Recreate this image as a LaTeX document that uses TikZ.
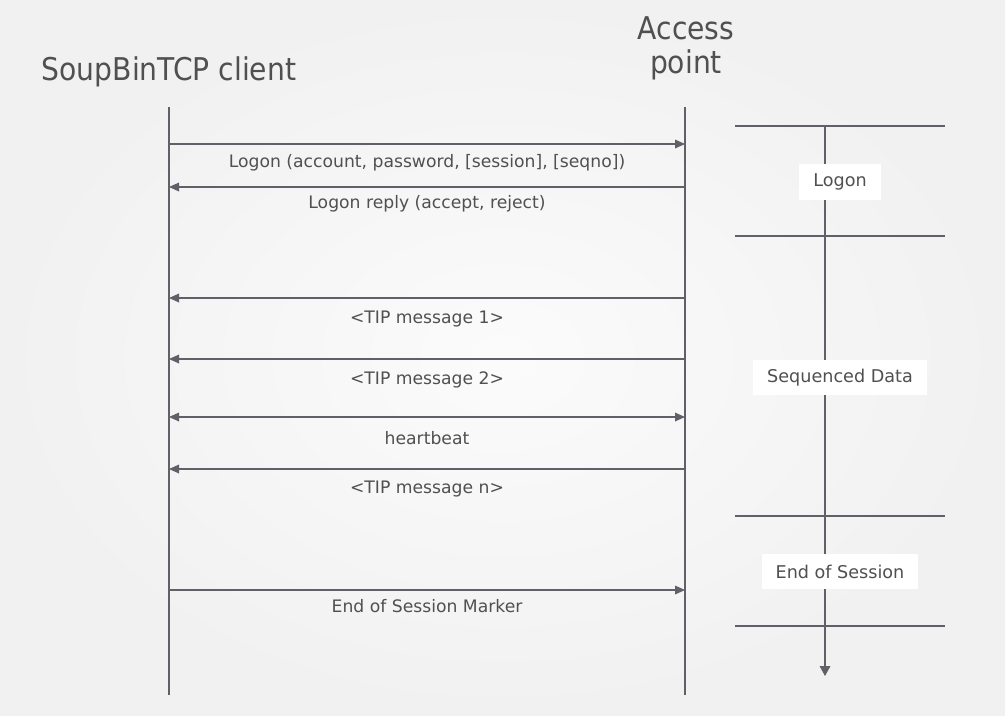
\documentclass[tikz,border=0pt]{standalone}
\usepackage{fontspec}
\setmainfont{DejaVu Sans}
\newfontfamily\titlefont{DejaVu Sans Condensed}
\usetikzlibrary{arrows.meta}
\definecolor{linegrey}{HTML}{606068}
\definecolor{textgrey}{HTML}{505050}
\tikzset{
  lifeline/.style={color=linegrey, line width=0.9pt},
  tohead/.style={lifeline, -{Triangle[length=7.5pt,width=6.5pt]}},
  totail/.style={lifeline, {Triangle[length=7.5pt,width=6.5pt]}-},
  tboth/.style={lifeline, {Triangle[length=7.5pt,width=6.5pt]}-{Triangle[length=7.5pt,width=6.5pt]}},
  msg/.style={text=textgrey, font=\fontsize{12.9}{15}\selectfont},
  title/.style={text=textgrey, font=\titlefont\fontsize{23.5}{25}\selectfont, align=center},
  phase/.style={fill=white, text=textgrey, font=\fontsize{13.2}{15}\selectfont,
    minimum height=26.5pt, inner xsep=10.5pt}
}

\begin{document}
\begin{tikzpicture}[x=0.75pt,y=-0.75pt]
  \shade[inner color=gray!3, outer color=gray!11] (0,0) rectangle (1005,715);
  \useasboundingbox (0,0) rectangle (1005,715);

  \node[title, anchor=base] (client) at (169,80) {SoupBinTCP client};
  \node[title, anchor=base] (ap) at (686,73) {Access\\point};
  \coordinate (ctop) at (169,107); \coordinate (cbot) at (169,695);
  \coordinate (atop) at (685,107); \coordinate (abot) at (685,695);
  \draw[lifeline] (ctop) -- (cbot);
  \draw[lifeline] (atop) -- (abot);

  \def\msgs{144/163/tohead/{Logon (account, password, [session], [seqno])},
            187/204/totail/{Logon reply (accept, reject)},
            298/319/totail/{<TIP message 1>},
            359/380/totail/{<TIP message 2>},
            417/438/tboth/{heartbeat},
            469/489/totail/{<TIP message n>},
            590/606/tohead/{End of Session Marker}}
  %  arrow y / label y / direction / text
  \foreach \y/\ly/\a/\t [count=\i from 1] in \msgs {
    \coordinate (c\i) at (169,\y);
    \coordinate (a\i) at (685,\y);
    \draw[\a] (c\i) -- (a\i);
    \node[msg] (m\i) at (427,\ly) {\t};
  }

  % phases on the right
  \foreach \y [count=\i from 1] in {126,236,516,626} {\draw[lifeline] (735,\y) -- (945,\y);}
  \coordinate (ptop) at (825,126); \coordinate (pbot) at (825,676);
  \draw[lifeline, -{Triangle[length=7.5pt,width=8pt]}] (ptop) -- (pbot);
  \node[phase] (logon) at (840,182) {Logon};
  \node[phase] (data) at (840,377.5) {Sequenced Data};
  \node[phase] (eos) at (840,571.5) {End of Session};
\end{tikzpicture}
\end{document}
